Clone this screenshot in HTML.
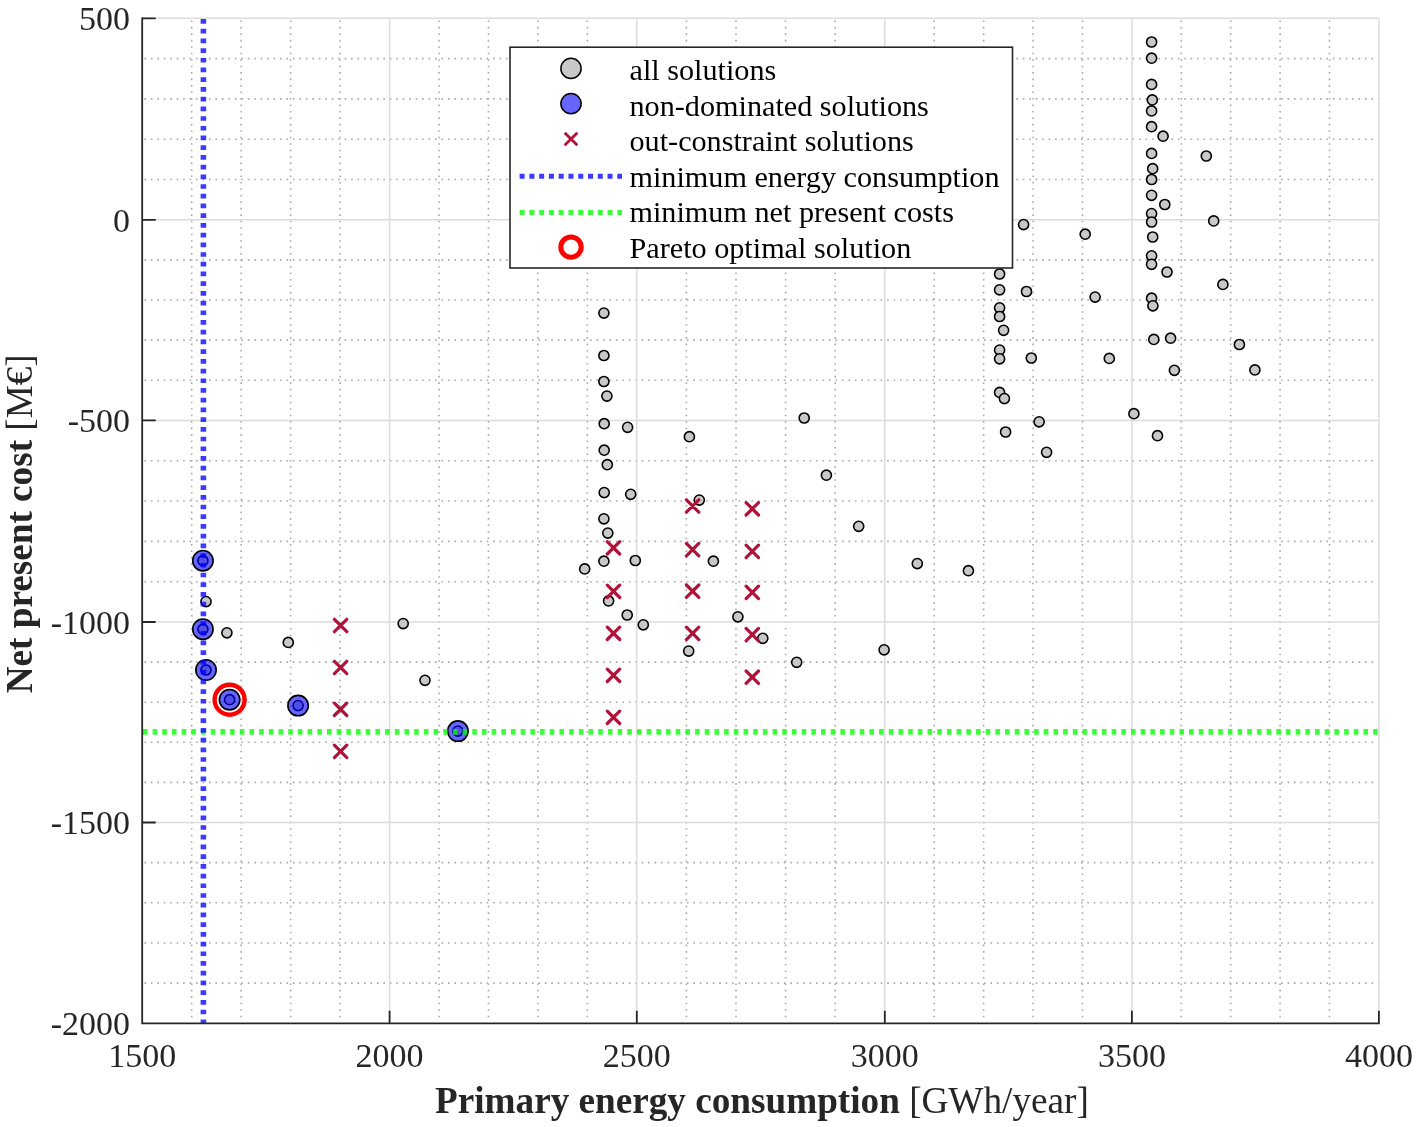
<!DOCTYPE html>
<html><head><meta charset="utf-8"><title>Pareto chart</title>
<style>html,body{margin:0;padding:0;background:#fff;}svg{display:block;will-change:transform;}</style></head>
<body><svg width="1417" height="1127" viewBox="0 0 1417 1127" font-family="'Liberation Serif', serif">
<rect width="1417" height="1127" fill="#fff"/>
<path d="M144.4 983.14H1379.40M144.4 942.98H1379.40M144.4 902.82H1379.40M144.4 862.66H1379.40M144.4 782.40H1379.40M144.4 742.30H1379.40M144.4 702.20H1379.40M144.4 662.10H1379.40M144.4 581.68H1379.40M144.4 541.36H1379.40M144.4 501.04H1379.40M144.4 460.72H1379.40M144.4 380.28H1379.40M144.4 340.16H1379.40M144.4 300.04H1379.40M144.4 259.92H1379.40M144.4 179.50H1379.40M144.4 139.20H1379.40M144.4 98.90H1379.40M144.4 58.60H1379.40" stroke="#a9a9a9" stroke-width="1.6" stroke-dasharray="1.6 4.8586" fill="none"/>
<path d="M191.68 1017.3V17.80M241.16 1017.3V17.80M290.64 1017.3V17.80M340.12 1017.3V17.80M439.04 1017.3V17.80M488.48 1017.3V17.80M537.92 1017.3V17.80M587.36 1017.3V17.80M686.40 1017.3V17.80M736.00 1017.3V17.80M785.60 1017.3V17.80M835.20 1017.3V17.80M934.22 1017.3V17.80M983.64 1017.3V17.80M1033.06 1017.3V17.80M1082.48 1017.3V17.80M1181.30 1017.3V17.80M1230.70 1017.3V17.80M1280.10 1017.3V17.80M1329.50 1017.3V17.80" stroke="#a9a9a9" stroke-width="1.6" stroke-dasharray="1.6 4.8630" fill="none"/>
<path d="M142.20 822.50H1378.90M142.20 622.00H1378.90M142.20 420.40H1378.90M142.20 219.80H1378.90M142.20 18.30H1378.90M389.60 18.30V1023.30M636.80 18.30V1023.30M884.80 18.30V1023.30M1131.90 18.30V1023.30M1378.90 18.30V1023.30" stroke="#dcdcdc" stroke-width="1.5" fill="none"/>
<g fill="#c8c8c8" stroke="#000" stroke-width="1.6"><circle cx="206" cy="601.6" r="5.05"/><circle cx="226.9" cy="632.8" r="5.05"/><circle cx="288.3" cy="642.4" r="5.05"/><circle cx="403.2" cy="623.6" r="5.05"/><circle cx="425" cy="680.3" r="5.05"/><circle cx="603.9" cy="313.1" r="5.05"/><circle cx="603.9" cy="355.5" r="5.05"/><circle cx="603.9" cy="381.5" r="5.05"/><circle cx="606.9" cy="396.1" r="5.05"/><circle cx="604.2" cy="423.7" r="5.05"/><circle cx="627.6" cy="427.3" r="5.05"/><circle cx="689.4" cy="436.7" r="5.05"/><circle cx="604.2" cy="450.2" r="5.05"/><circle cx="607.3" cy="464.7" r="5.05"/><circle cx="604.2" cy="492.6" r="5.05"/><circle cx="630.7" cy="494.3" r="5.05"/><circle cx="699.3" cy="500.1" r="5.05"/><circle cx="603.9" cy="518.8" r="5.05"/><circle cx="607.8" cy="533.1" r="5.05"/><circle cx="603.9" cy="561.2" r="5.05"/><circle cx="635.3" cy="560.5" r="5.05"/><circle cx="584.7" cy="568.9" r="5.05"/><circle cx="713.4" cy="561.2" r="5.05"/><circle cx="608.6" cy="600.9" r="5.05"/><circle cx="627.2" cy="615" r="5.05"/><circle cx="643.3" cy="624.8" r="5.05"/><circle cx="688.7" cy="651.1" r="5.05"/><circle cx="737.9" cy="616.8" r="5.05"/><circle cx="762.8" cy="638.3" r="5.05"/><circle cx="796.7" cy="662.3" r="5.05"/><circle cx="804.2" cy="418" r="5.05"/><circle cx="826.4" cy="475.2" r="5.05"/><circle cx="858.7" cy="526.3" r="5.05"/><circle cx="917.3" cy="563.6" r="5.05"/><circle cx="968.4" cy="570.7" r="5.05"/><circle cx="884.1" cy="649.8" r="5.05"/><circle cx="1151.6" cy="42" r="5.05"/><circle cx="1151.6" cy="58.2" r="5.05"/><circle cx="1151.6" cy="84.4" r="5.05"/><circle cx="1152.3" cy="99.9" r="5.05"/><circle cx="1151.6" cy="110.9" r="5.05"/><circle cx="1151.6" cy="126.7" r="5.05"/><circle cx="1163.1" cy="136.2" r="5.05"/><circle cx="1151.6" cy="153.4" r="5.05"/><circle cx="1206.3" cy="156" r="5.05"/><circle cx="1152.7" cy="168.7" r="5.05"/><circle cx="1151.6" cy="179.5" r="5.05"/><circle cx="1151.6" cy="195.3" r="5.05"/><circle cx="1164.8" cy="204.5" r="5.05"/><circle cx="1151.6" cy="213.6" r="5.05"/><circle cx="1151.6" cy="222" r="5.05"/><circle cx="1213.7" cy="220.9" r="5.05"/><circle cx="1152.7" cy="237" r="5.05"/><circle cx="1151.6" cy="255.8" r="5.05"/><circle cx="1151.6" cy="264.3" r="5.05"/><circle cx="1167" cy="272" r="5.05"/><circle cx="1222.9" cy="284.4" r="5.05"/><circle cx="1151.6" cy="298.2" r="5.05"/><circle cx="1152.9" cy="305.8" r="5.05"/><circle cx="1153.8" cy="339.4" r="5.05"/><circle cx="1170.6" cy="338.2" r="5.05"/><circle cx="1239.4" cy="344.5" r="5.05"/><circle cx="1109.3" cy="358.4" r="5.05"/><circle cx="1174.4" cy="370.3" r="5.05"/><circle cx="1254.9" cy="369.9" r="5.05"/><circle cx="1133.9" cy="413.7" r="5.05"/><circle cx="1157.5" cy="435.7" r="5.05"/><circle cx="1023.6" cy="224.6" r="5.05"/><circle cx="1085.2" cy="234.2" r="5.05"/><circle cx="999.6" cy="274" r="5.05"/><circle cx="999.6" cy="289.8" r="5.05"/><circle cx="1026.5" cy="291.5" r="5.05"/><circle cx="1095.1" cy="297.1" r="5.05"/><circle cx="999.6" cy="307.8" r="5.05"/><circle cx="999.6" cy="316.5" r="5.05"/><circle cx="1003.6" cy="330.3" r="5.05"/><circle cx="999.6" cy="350.1" r="5.05"/><circle cx="999.6" cy="358.8" r="5.05"/><circle cx="1031.3" cy="358" r="5.05"/><circle cx="999.6" cy="392.4" r="5.05"/><circle cx="1004.4" cy="398.6" r="5.05"/><circle cx="1039.1" cy="421.8" r="5.05"/><circle cx="1005.6" cy="432" r="5.05"/><circle cx="1046.6" cy="452.3" r="5.05"/><circle cx="202.9" cy="560.7" r="5.05"/><circle cx="202.9" cy="629.2" r="5.05"/><circle cx="206" cy="670" r="5.05"/><circle cx="229.6" cy="699.7" r="5.05"/><circle cx="298.1" cy="705.6" r="5.05"/><circle cx="457.9" cy="731.1" r="5.05"/></g>
<path d="M334.40 619.30L346.80 631.70M334.40 631.70L346.80 619.30M334.40 661.30L346.80 673.70M334.40 673.70L346.80 661.30M334.40 703.10L346.80 715.50M334.40 715.50L346.80 703.10M334.40 745.20L346.80 757.60M334.40 757.60L346.80 745.20M607.30 541.60L619.70 554.00M607.30 554.00L619.70 541.60M607.30 585.10L619.70 597.50M607.30 597.50L619.70 585.10M607.30 627.10L619.70 639.50M607.30 639.50L619.70 627.10M607.30 669.10L619.70 681.50M607.30 681.50L619.70 669.10M607.30 711.10L619.70 723.50M607.30 723.50L619.70 711.10M686.40 499.80L698.80 512.20M686.40 512.20L698.80 499.80M686.40 543.40L698.80 555.80M686.40 555.80L698.80 543.40M686.40 585.00L698.80 597.40M686.40 597.40L698.80 585.00M686.40 627.20L698.80 639.60M686.40 639.60L698.80 627.20M746.10 502.60L758.50 515.00M746.10 515.00L758.50 502.60M746.10 545.20L758.50 557.60M746.10 557.60L758.50 545.20M746.10 586.20L758.50 598.60M746.10 598.60L758.50 586.20M746.10 628.40L758.50 640.80M746.10 640.80L758.50 628.40M746.10 671.00L758.50 683.40M746.10 683.40L758.50 671.00" stroke="#b0123a" stroke-width="3.2" stroke-linecap="round" fill="none"/>
<g><circle cx="202.9" cy="560.7" r="10.2" fill="#0000ff" fill-opacity="0.6" stroke="#000" stroke-width="1.6"/><circle cx="202.9" cy="629.2" r="10.2" fill="#0000ff" fill-opacity="0.6" stroke="#000" stroke-width="1.6"/><circle cx="206" cy="670" r="10.2" fill="#0000ff" fill-opacity="0.6" stroke="#000" stroke-width="1.6"/><circle cx="229.6" cy="699.7" r="10.2" fill="#0000ff" fill-opacity="0.6" stroke="#000" stroke-width="1.6"/><circle cx="298.1" cy="705.6" r="10.2" fill="#0000ff" fill-opacity="0.6" stroke="#000" stroke-width="1.6"/><circle cx="457.9" cy="731.1" r="10.2" fill="#0000ff" fill-opacity="0.6" stroke="#000" stroke-width="1.6"/></g>
<path d="M142.9 731.9H1378.90" stroke="#00ff00" stroke-opacity="0.77" stroke-width="5.6" stroke-dasharray="4.6 5.087" fill="none"/>
<path d="M203.4 19.05V1023.30" stroke="#0000ff" stroke-opacity="0.77" stroke-width="5.6" stroke-dasharray="4.7 5.012" fill="none"/>
<circle cx="229.6" cy="699.7" r="15" fill="none" stroke="#ff0000" stroke-width="4.4"/>
<path d="M142.20 18.30V1023.30H1378.90" stroke="#262626" stroke-width="1.8" fill="none" stroke-linecap="square"/>
<path d="M142.20 822.50h13.5M142.20 622.00h13.5M142.20 420.40h13.5M142.20 219.80h13.5M142.20 18.30h13.5M389.60 1023.30v-12.5M636.80 1023.30v-12.5M884.80 1023.30v-12.5M1131.90 1023.30v-12.5M1378.90 1023.30v-12.5" stroke="#262626" stroke-width="1.8" fill="none"/>
<g font-size="34" fill="#262626"><text x="130" y="1035.00" text-anchor="end">-2000</text><text x="130" y="834.20" text-anchor="end">-1500</text><text x="130" y="633.70" text-anchor="end">-1000</text><text x="130" y="432.10" text-anchor="end">-500</text><text x="130" y="231.50" text-anchor="end">0</text><text x="130" y="30.00" text-anchor="end">500</text><text x="142.20" y="1067" text-anchor="middle">1500</text><text x="389.60" y="1067" text-anchor="middle">2000</text><text x="636.80" y="1067" text-anchor="middle">2500</text><text x="884.80" y="1067" text-anchor="middle">3000</text><text x="1131.90" y="1067" text-anchor="middle">3500</text><text x="1378.90" y="1067" text-anchor="middle">4000</text></g>
<text x="761.9" y="1112.7" font-size="37.2" fill="#262626" text-anchor="middle"><tspan font-weight="bold">Primary energy consumption</tspan> [GWh/year]</text>
<text transform="translate(31.8 523.8) rotate(-90)" font-size="37.2" fill="#262626" text-anchor="middle"><tspan font-weight="bold">Net present cost</tspan> [M€]</text>
<rect x="510" y="47.2" width="502.5" height="220.8" fill="#fff" stroke="#262626" stroke-width="1.6"/>
<circle cx="571" cy="68.4" r="10.1" fill="#c8c8c8" stroke="#000" stroke-width="1.5"/>
<circle cx="571" cy="103.7" r="10.1" fill="#6666ff" stroke="#000" stroke-width="1.5"/>
<path d="M564.7 132.7L577.3 145.3M564.7 145.3L577.3 132.7" stroke="#b0123a" stroke-width="2.8" fill="none"/>
<path d="M519.6 176.3H622" stroke="#3b3bff" stroke-width="5" stroke-dasharray="5 4.77" fill="none"/>
<path d="M519.6 212.5H622" stroke="#3bff3b" stroke-width="5" stroke-dasharray="5 4.77" fill="none"/>
<circle cx="571" cy="247.1" r="10.2" fill="none" stroke="#ff0000" stroke-width="5"/>
<g font-size="30.2" fill="#000"><text x="629.5" y="80.2">all solutions</text><text x="629.5" y="115.7">non-dominated solutions</text><text x="629.5" y="151.2">out-constraint solutions</text><text x="629.5" y="186.6">minimum energy consumption</text><text x="629.5" y="222.1">minimum net present costs</text><text x="629.5" y="257.6">Pareto optimal solution</text></g>
</svg></body></html>
